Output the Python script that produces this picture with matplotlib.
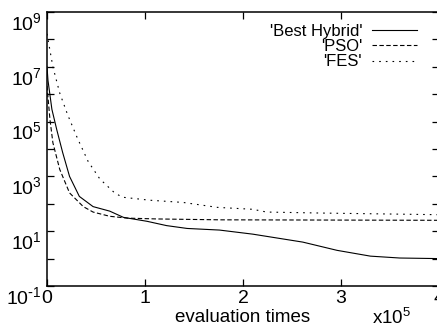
import numpy as np
import matplotlib
matplotlib.use("Agg")
import matplotlib.pyplot as plt
import matplotlib.transforms as mtransforms
from matplotlib.ticker import FixedLocator, FuncFormatter, NullLocator

plt.rcParams.update({
    "font.family": ["Liberation Sans", "DejaVu Sans"],
    "font.size": 13.5,
    "axes.linewidth": 1.1,
    "xtick.direction": "in",
    "ytick.direction": "in",
    "xtick.major.size": 5,
    "ytick.major.size": 5,
    "xtick.major.width": 0.9,
    "ytick.major.width": 0.9,
})

# evaluation times, in units of 1e5
hybrid_x = [0, 0.01, 0.05, 0.10, 0.16, 0.23, 0.33, 0.47, 0.64, 0.78, 1.02,
            1.22, 1.43, 1.76, 2.10, 2.61, 2.96, 3.30, 3.60, 4.0]
hybrid_y = [1.0e7, 3.2e6, 2.8e5, 5.0e4, 7.4e3, 1.0e3, 186, 79, 54, 32, 23,
            16, 12.6, 11, 7.8, 4.0, 2.0, 1.23, 1.05, 1.0]

pso_x = [0, 0.03, 0.06, 0.13, 0.23, 0.37, 0.47, 0.64, 0.82, 1.12, 1.77, 4.0]
pso_y = [2.0e6, 1.2e5, 1.7e4, 1.8e3, 250, 79, 50, 35, 30, 28, 26, 25]

fes_x = [0, 0.06, 0.13, 0.21, 0.31, 0.42, 0.54, 0.69, 0.77, 1.05, 1.39,
         1.74, 2.10, 2.24, 2.79, 4.0]
fes_y = [1.6e8, 1.0e7, 1.1e6, 1.8e5, 2.5e4, 3.5e3, 800, 250, 174, 135, 112,
         74, 63, 50, 46, 40]

x_ticks = [0, 1, 2, 3, 4]
y_decades = list(range(-1, 10))


def decade_label(v, pos):
    e = int(round(np.log10(v)))
    if e % 2 == 0:
        return ""
    exp = r"\text{-}%d" % -e if e < 0 else "%d" % e
    return r"$\mathregular{10^{%s}}$" % exp


fig = plt.figure(figsize=(4.37, 3.30), dpi=100)
ax = fig.add_axes([47 / 437, 44 / 330, 392 / 437, 274 / 330])

ax.plot(hybrid_x, hybrid_y, color="black", lw=0.8, label="'Best Hybrid'")
ax.plot(pso_x, pso_y, color="black", lw=0.8, linestyle=(0, (4.0, 2.2)), label="'PSO'")
ax.plot(fes_x, fes_y, color="black", lw=0.8, linestyle=(0, (1.5, 4.5)), label="'FES'")

ax.set_yscale("log")
ax.set_xlim(0, 4)
ax.set_ylim(1e-1, 1e9)

ax.yaxis.set_major_locator(FixedLocator([10.0 ** e for e in y_decades]))
ax.yaxis.set_minor_locator(NullLocator())
ax.yaxis.set_major_formatter(FuncFormatter(decade_label))
ax.set_xticks(x_ticks)
ax.set_xticklabels([str(t) for t in x_ticks])

ax.tick_params(axis="both", which="both", top=True, right=True, labelsize=14)
ax.tick_params(axis="x", pad=3)
ax.tick_params(axis="y", pad=4)

# gnuplot puts the base of the label below the tick
shift = mtransforms.ScaledTranslation(0, -6.5 / 72, fig.dpi_scale_trans)
for lab in ax.get_yticklabels():
    lab.set_transform(lab.get_transform() + shift)

ax.set_xlabel("evaluation times", fontsize=13.5, labelpad=1)
fig.text(372 / 437, 2 / 330, r"$\mathregular{x10^{5}}$", fontsize=13.5,
         ha="left", va="bottom")

ax.legend(loc="upper right", bbox_to_anchor=(0.944, 0.957), frameon=False,
          markerfirst=False, fontsize=12, handlelength=2.7, handletextpad=0.6,
          labelspacing=0.02, borderpad=0, borderaxespad=0)

fig.savefig("out.png", dpi=100)
